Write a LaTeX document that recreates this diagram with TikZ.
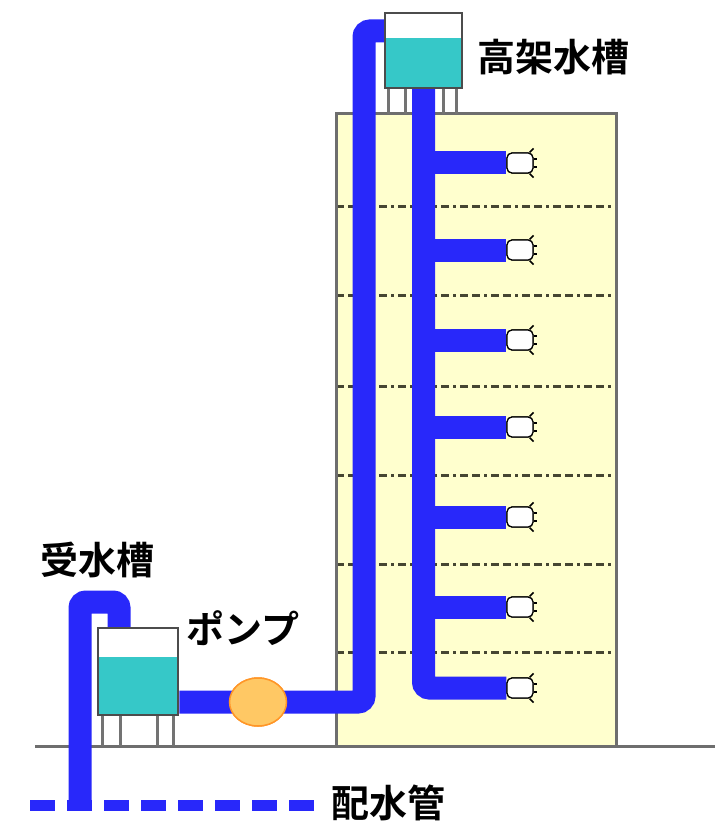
\documentclass[tikz,border=0pt]{standalone}
\usepackage{fontspec}
\setmainfont{Noto Sans CJK JP}
\newfontfamily\jpbold{Noto Sans CJK JP Bold}
\usetikzlibrary{calc,shapes.geometric}
\definecolor{pipeblue}{RGB}{40,40,250}
\definecolor{tankwater}{RGB}{54,200,200}
\definecolor{bldgfill}{RGB}{255,255,206}
\definecolor{bldgedge}{RGB}{110,110,110}
\definecolor{floorcol}{RGB}{70,70,50}
\definecolor{pumpfill}{RGB}{255,200,100}
\definecolor{pumpedge}{RGB}{255,150,40}
\tikzset{
  pipe/.style={draw=pipeblue,line width=23pt,rounded corners=6pt},
  mainpipe/.style={draw=pipeblue,line width=11pt,dash pattern=on 25pt off 12pt},
  tank/.style={draw=black!70,line width=2.5pt,fill=white,inner sep=0pt,
               path picture={\fill[tankwater] (path picture bounding box.south west)
               rectangle ($(path picture bounding box.south east)!0.667!(path picture bounding box.north east)$);}},
  leg/.style={draw=black!55,line width=3pt},
  floorline/.style={draw=floorcol,line width=3pt,dash pattern=on 8pt off 4pt on 8pt off 4pt on 3pt off 4pt},
  faucet/.style={draw=black,line width=1.2pt,fill=white,rounded corners=5pt,
                 minimum width=26pt,minimum height=20pt,inner sep=0pt},
  tapmark/.style={draw=black,line width=1.5pt},
  pumpbody/.style={ellipse,draw=pumpedge,line width=1.5pt,fill=pumpfill,
                   minimum width=57pt,minimum height=48pt,inner sep=0pt},
  jplabel/.style={font=\jpbold\fontsize{38pt}{40pt}\selectfont,inner sep=0pt},
}
\begin{document}
\begin{tikzpicture}[x=1pt,y=-1pt]
\useasboundingbox (0,0) rectangle (722,826);
% building and floors
\fill[bldgfill] (336,114) rectangle (616,746);
\foreach \y in {207,295,386,475,564,652}
  \draw[floorline] (336,\y) -- (616,\y);
\draw[bldgedge,line width=3pt] (336,746) -- (336,114) -- (616,114) -- (616,746);
% ground
\draw[bldgedge,line width=3pt] (35,746) -- (715,746);
% tanks, pump and taps
\node[tank,minimum width=77pt,minimum height=75pt] (hightank) at (423.5,50.5) {};
\node[tank,minimum width=80pt,minimum height=87pt] (lowtank) at (138,671.5) {};
\node[pumpbody] (pump) at (258,702) {};
\foreach \y [count=\i] in {163,250,340,427,517,607,688}
  \node[faucet] (faucet\i) at (520,\y) {};
% legs
\foreach \x in {388,405,443,456}
  \draw[leg] (\x,88) -- (\x,114);
\foreach \x in {102,120,157,173}
  \draw[leg] (\x,715) -- (\x,746);
% supply main and inlet
\coordinate (mainend) at (318,805);
\draw[mainpipe] (30,805) -- (mainend);
\coordinate (inletbot) at (80,805);
\draw[pipe] (inletbot) -- (80,602) -| (lowtank.north-|119,0);
% lift pipe through the pump up to the roof tank
\coordinate (risetop) at (364,31);
\draw[pipe] (lowtank.east|-pump.center) -- (pump.center) -| (risetop) -- (risetop-|hightank.west);
% down pipe and branches to each floor
\draw[pipe] (hightank.south) |- (faucet7.west);
\foreach \i in {1,...,6}
  \draw[pipe] (hightank.south|-faucet\i.west) -- (faucet\i.west);
% redraw tanks, pump and taps on top of the pipe ends
\node[tank,minimum width=77pt,minimum height=75pt] at (hightank) {};
\node[tank,minimum width=80pt,minimum height=87pt] at (lowtank) {};
\node[pumpbody] at (pump) {};
\foreach \i in {1,...,7}{
  \node[faucet] at (faucet\i) {};
  \draw[tapmark] (faucet\i.north east) ++(-4,0) -- ++(4,-4);
  \draw[tapmark] (faucet\i.south east) ++(-4,0) -- ++(4,4);
  \draw[tapmark] (faucet\i.east) ++(0,-4) -- ++(3,0);
  \draw[tapmark] (faucet\i.east) ++(0,4) -- ++(3,0);
}
% labels
\node[jplabel] (hightanklabel) at (553,57) {高架水槽};
\node[jplabel] (lowtanklabel) at (97,560) {受水槽};
\node[jplabel] (pumplabel) at (243,628) {ポンプ};
\node[jplabel] (mainlabel) at (388,803) {配水管};
\end{tikzpicture}
\end{document}
